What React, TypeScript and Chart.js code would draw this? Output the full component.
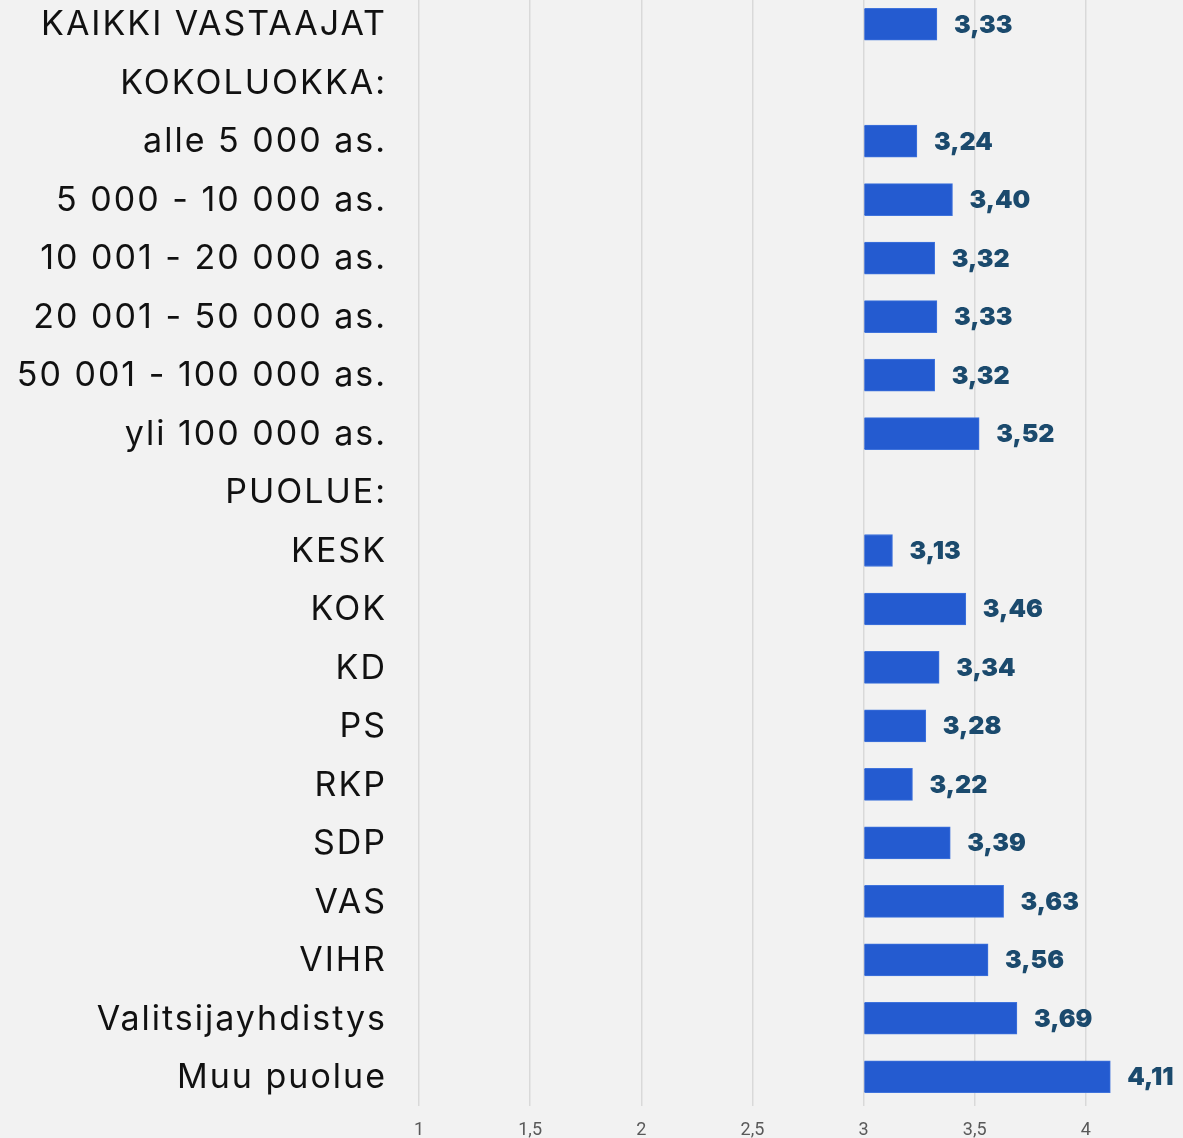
import React, { useEffect, useRef } from "react";
import { Chart, registerables } from "chart.js";

Chart.register(...registerables);

const categories: string[] = [
  "KAIKKI VASTAAJAT",
  "KOKOLUOKKA:",
  "alle 5 000 as.",
  "5 000 - 10 000 as.",
  "10 001 - 20 000 as.",
  "20 001 - 50 000 as.",
  "50 001 - 100 000 as.",
  "yli 100 000 as.",
  "PUOLUE:",
  "KESK",
  "KOK",
  "KD",
  "PS",
  "RKP",
  "SDP",
  "VAS",
  "VIHR",
  "Valitsijayhdistys",
  "Muu puolue",
];

const values: (number | null)[] = [
  3.33, null, 3.24, 3.4, 3.32, 3.33, 3.32, 3.52, null, 3.13, 3.46, 3.34, 3.28,
  3.22, 3.39, 3.63, 3.56, 3.69, 4.11,
];

const xTicks: number[] = [1, 1.5, 2, 2.5, 3, 3.5, 4, 4.5];

const fmt = (v: number, d?: number) =>
  (d === undefined ? String(v) : v.toFixed(d)).replace(".", ",");

const customLabels = {
  id: "customLabels",
  afterDraw(chart: any) {
    const ctx = chart.ctx;
    const yScale = chart.scales.y;
    const meta = chart.getDatasetMeta(0);
    ctx.save();
    // category labels
    ctx.font = "34px Inter";
    ctx.fillStyle = "#111111";
    ctx.textAlign = "right";
    ctx.textBaseline = "middle";
    (ctx as any).letterSpacing = "2px";
    categories.forEach((c, i) => {
      const y = yScale.getPixelForValue(i);
      ctx.fillText(c, 387, y + 1);
    });
    (ctx as any).letterSpacing = "0px";
    // value labels
    ctx.font = "900 25px Inter";
    ctx.fillStyle = "#1b4a6d";
    ctx.textAlign = "left";
    meta.data.forEach((bar: any, i: number) => {
      const v = values[i];
      if (v === null || v === undefined) return;
      ctx.fillText(fmt(v, 2), bar.x + 17, bar.y + 1);
    });
    ctx.restore();
  },
};

export default function App() {
  const ref = useRef<HTMLCanvasElement | null>(null);
  useEffect(() => {
    if (!ref.current) return;
    const chart = new Chart(ref.current, {
      type: "bar",
      data: {
        labels: categories,
        datasets: [
          {
            data: values as any,
            base: 3,
            backgroundColor: "#245bd0",
            borderColor: "#3f73dc",
            borderWidth: 1,
            barThickness: 32,
          } as any,
        ],
      },
      options: {
        indexAxis: "y",
        animation: false,
        responsive: false,
        maintainAspectRatio: false,
        layout: { padding: { top: 5, right: 3, left: 0, bottom: 0 } },
        plugins: {
          legend: { display: false },
          tooltip: { enabled: false },
        },
        scales: {
          x: {
            min: 1,
            max: 4.5,
            afterBuildTicks: (s: any) => {
              s.ticks = xTicks.map((v) => ({ value: v }));
            },
            afterFit: (s: any) => {
              s.paddingLeft = 0;
              s.paddingRight = 0;
              s.height = 34;
            },
            grid: { color: "#d9d9d9", lineWidth: 1.5, drawTicks: false },
            border: { display: false },
            ticks: {
              color: "#595959",
              font: { family: "Roboto", size: 18 },
              padding: 14,
              maxRotation: 0,
              callback: (v: any) => fmt(Number(v)),
            },
          },
          y: {
            afterFit: (s: any) => {
              s.width = 419;
              s.paddingTop = 0;
              s.paddingBottom = 0;
            },
            grid: { display: false, drawTicks: false },
            border: { display: false },
            ticks: { display: false, autoSkip: false },
          },
        },
      },
      plugins: [customLabels],
    });
    return () => chart.destroy();
  }, []);
  return (
    <div
      style={{
        position: "fixed",
        left: 0,
        top: 0,
        width: 1183,
        height: 1138,
        overflow: "hidden",
        background: "#f2f2f2",
      }}
    >
      <canvas
        ref={ref}
        width={1200}
        height={1150}
        style={{ position: "absolute", left: 0, top: -10, width: 1200, height: 1150 }}
      />
    </div>
  );
}
